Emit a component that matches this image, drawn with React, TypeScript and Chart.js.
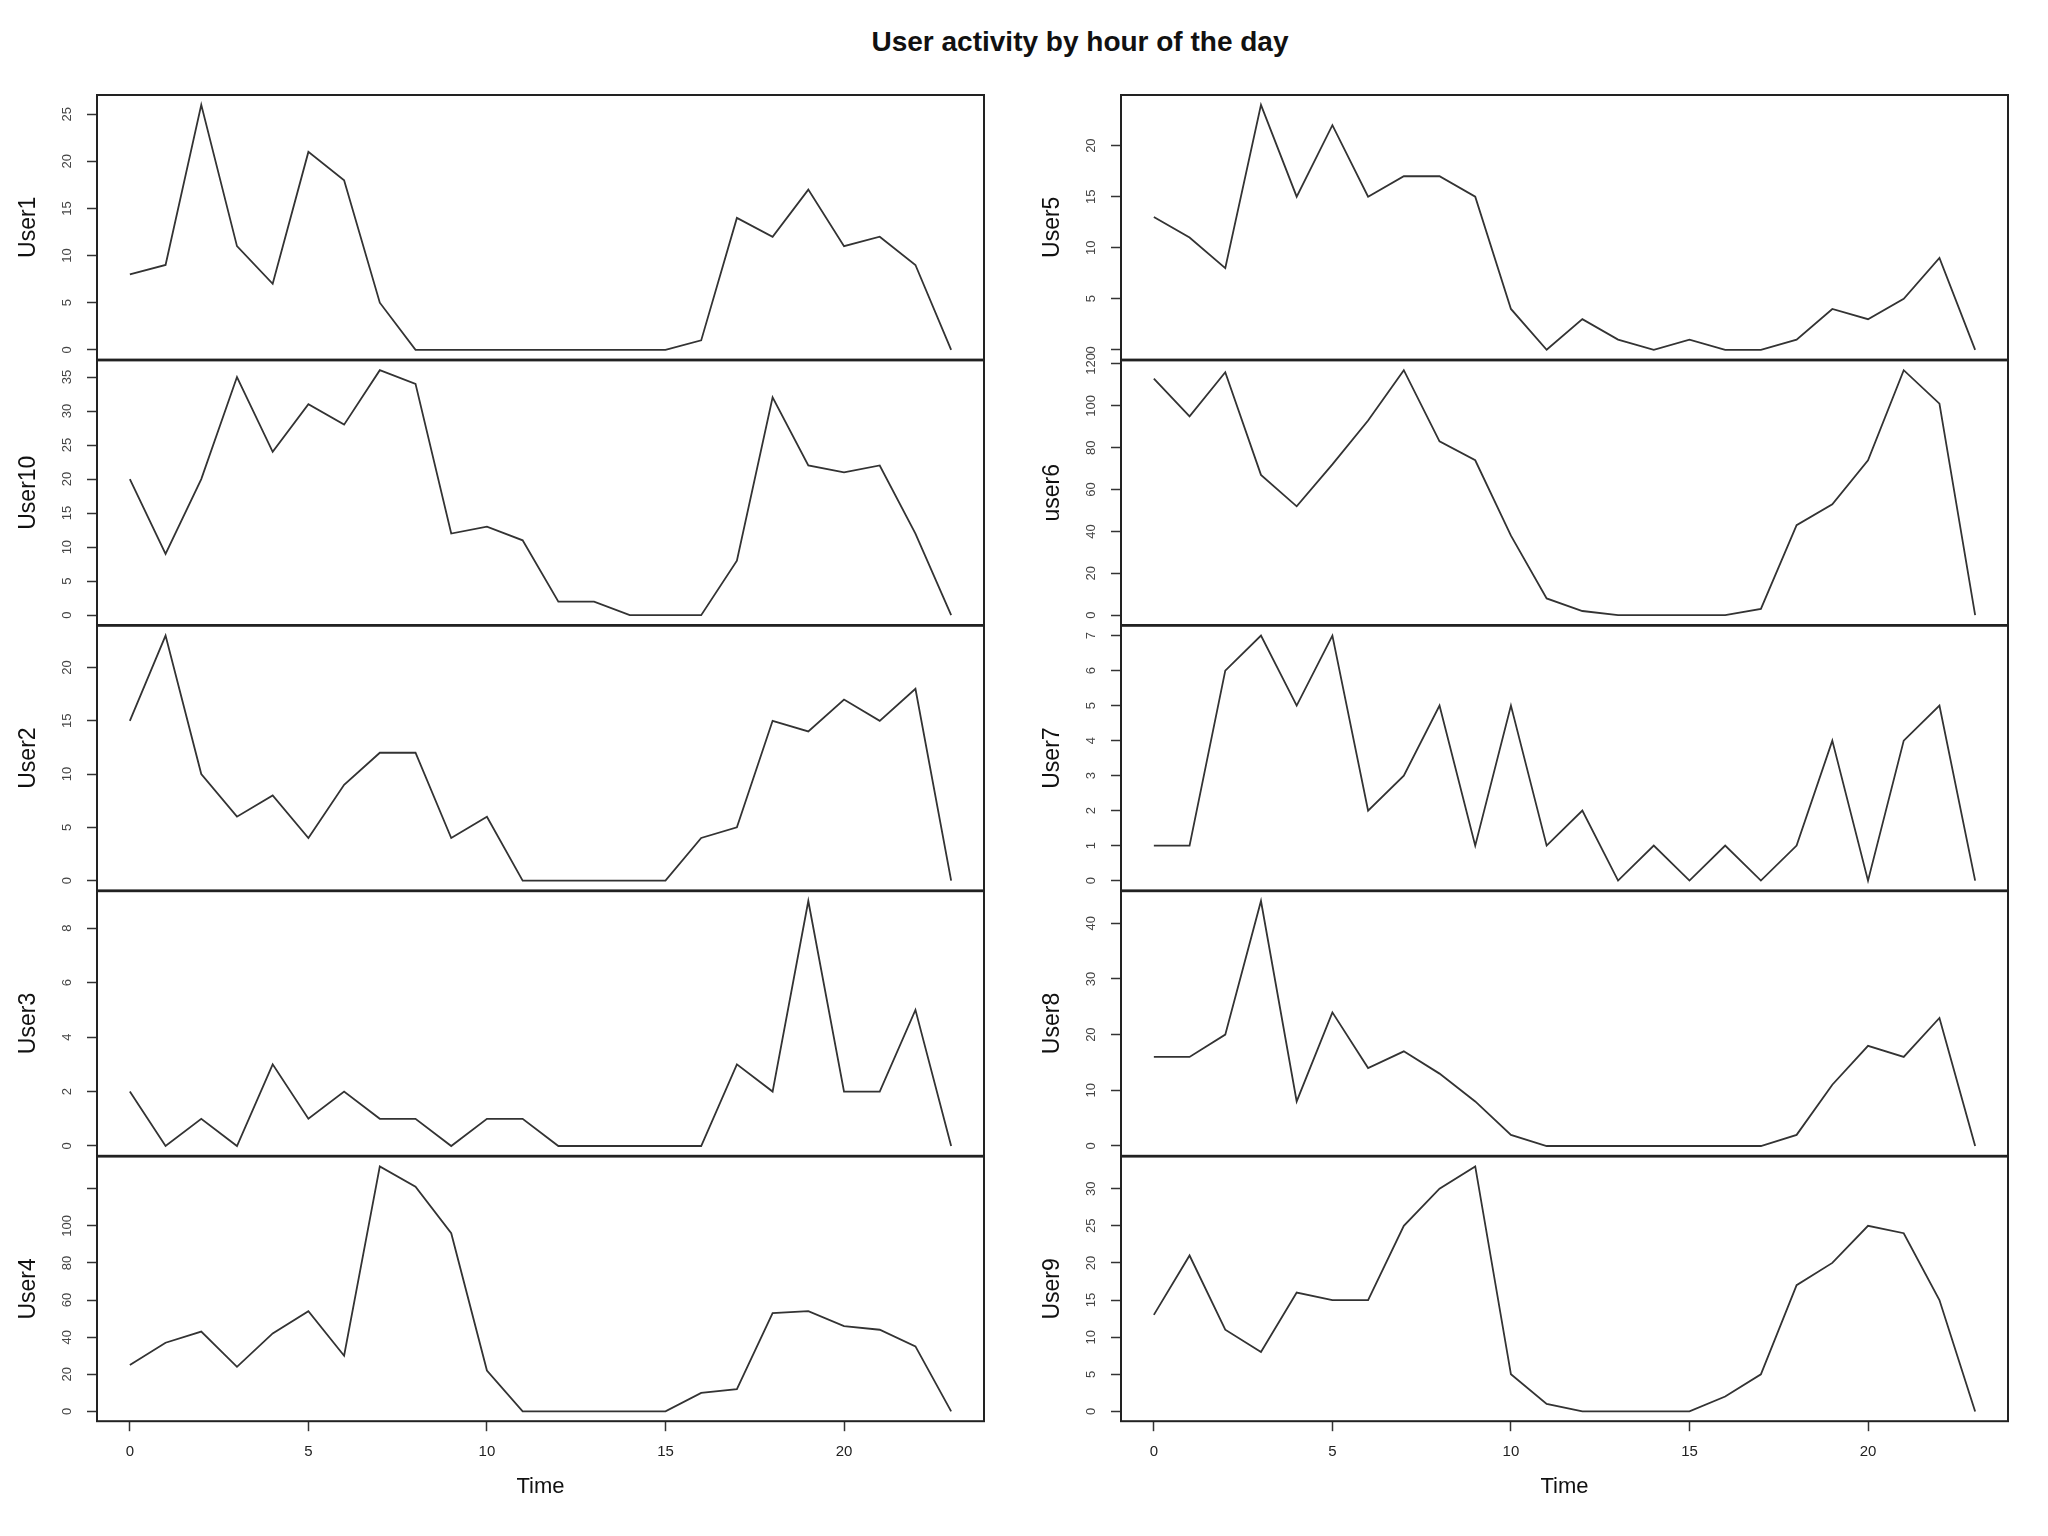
import React, { useEffect, useRef } from 'react';
import { Chart, registerables } from 'chart.js';

Chart.register(...registerables);

// ---------- data ----------
const hours = [0, 1, 2, 3, 4, 5, 6, 7, 8, 9, 10, 11, 12, 13, 14, 15, 16, 17, 18, 19, 20, 21, 22, 23];

const user1 = [8, 9, 26, 11, 7, 21, 18, 5, 0, 0, 0, 0, 0, 0, 0, 0, 1, 14, 12, 17, 11, 12, 9, 0];
const user10 = [20, 9, 20, 35, 24, 31, 28, 36, 34, 12, 13, 11, 2, 2, 0, 0, 0, 8, 32, 22, 21, 22, 12, 0];
const user2 = [15, 23, 10, 6, 8, 4, 9, 12, 12, 4, 6, 0, 0, 0, 0, 0, 4, 5, 15, 14, 17, 15, 18, 0];
const user3 = [2, 0, 1, 0, 3, 1, 2, 1, 1, 0, 1, 1, 0, 0, 0, 0, 0, 3, 2, 9, 2, 2, 5, 0];
const user4 = [25, 37, 43, 24, 42, 54, 30, 132, 121, 96, 22, 0, 0, 0, 0, 0, 10, 12, 53, 54, 46, 44, 35, 0];
const user5 = [13, 11, 8, 24, 15, 22, 15, 17, 17, 15, 4, 0, 3, 1, 0, 1, 0, 0, 1, 4, 3, 5, 9, 0];
const user6 = [113, 95, 116, 67, 52, 72, 93, 117, 83, 74, 38, 8, 2, 0, 0, 0, 0, 3, 43, 53, 74, 117, 101, 0];
const user7 = [1, 1, 6, 7, 5, 7, 2, 3, 5, 1, 5, 1, 2, 0, 1, 0, 1, 0, 1, 4, 0, 4, 5, 0];
const user8 = [16, 16, 20, 44, 8, 24, 14, 17, 13, 8, 2, 0, 0, 0, 0, 0, 0, 0, 2, 11, 18, 16, 23, 0];
const user9 = [13, 21, 11, 8, 16, 15, 15, 25, 30, 33, 5, 1, 0, 0, 0, 0, 2, 5, 17, 20, 25, 24, 15, 0];

// tick values
const xTicks = [0, 5, 10, 15, 20];
const ticksUser1 = [0, 5, 10, 15, 20, 25];
const ticksUser10 = [0, 5, 10, 15, 20, 25, 30, 35];
const ticksUser2 = [0, 5, 10, 15, 20];
const ticksUser3 = [0, 2, 4, 6, 8];
const ticksUser4 = [0, 20, 40, 60, 80, 100, 120];
const labelsUser4 = ['0', '20', '40', '60', '80', '100', ''];
const ticksUser5 = [0, 5, 10, 15, 20];
const ticksUser6 = [0, 20, 40, 60, 80, 100, 120];
const ticksUser7 = [0, 1, 2, 3, 4, 5, 6, 7];
const ticksUser8 = [0, 10, 20, 30, 40];
const ticksUser9 = [0, 5, 10, 15, 20, 25, 30];

const titleText = 'User activity by hour of the day';
const xTitle = 'Time';

type PanelSpec = {
  name: string;
  values: number[];
  ticks: number[];
  tickLabels?: string[];
  col: number;
  row: number;
};

const panels: PanelSpec[] = [
  { name: 'User1', values: user1, ticks: ticksUser1, col: 0, row: 0 },
  { name: 'User10', values: user10, ticks: ticksUser10, col: 0, row: 1 },
  { name: 'User2', values: user2, ticks: ticksUser2, col: 0, row: 2 },
  { name: 'User3', values: user3, ticks: ticksUser3, col: 0, row: 3 },
  { name: 'User4', values: user4, ticks: ticksUser4, tickLabels: labelsUser4, col: 0, row: 4 },
  { name: 'User5', values: user5, ticks: ticksUser5, col: 1, row: 0 },
  { name: 'user6', values: user6, ticks: ticksUser6, col: 1, row: 1 },
  { name: 'User7', values: user7, ticks: ticksUser7, col: 1, row: 2 },
  { name: 'User8', values: user8, ticks: ticksUser8, col: 1, row: 3 },
  { name: 'User9', values: user9, ticks: ticksUser9, col: 1, row: 4 },
];

// ---------- layout ----------
const FONT = "'Liberation Sans', Arial, Helvetica, sans-serif";
const PAGE_H = 1536;
const CANVAS_LEFT = [0, 1024];
const Y_AXIS_W = 97;
const BOX_W = 887;
const RIGHT_PAD = 30;
const CANVAS_W = Y_AXIS_W + BOX_W + RIGHT_PAD;
const PANEL_TOP0 = 95;
const PANEL_STEP = 265.4;
const PANEL_H = 264.6;
const BLEED = 40;
const LAST_ROW = 4;
const TICK_FONT_SIZE = 13;
const LABEL_CENTER_DIST = 30;
const TICK_LEN = 10;

const framePlugin = {
  id: 'frame',
  afterDatasetsDraw(chart: any) {
    const { ctx, chartArea } = chart;
    const { left, top, right, bottom } = chartArea;
    ctx.save();
    ctx.strokeStyle = '#222';
    ctx.lineWidth = 2;
    ctx.strokeRect(left, top, right - left, bottom - top);
    ctx.restore();
  },
};

function measureWidest(labels: string[], font: string): number {
  const c = document.createElement('canvas');
  const ctx = c.getContext('2d');
  if (!ctx) return 0;
  ctx.font = font;
  let w = 0;
  for (const l of labels) w = Math.max(w, ctx.measureText(l).width);
  return w;
}

function Panel({ spec }: { spec: PanelSpec }) {
  const ref = useRef<HTMLCanvasElement | null>(null);
  const isBottom = spec.row === LAST_ROW;
  const panelTop = PANEL_TOP0 + PANEL_STEP * spec.row;
  const panelBottom = panelTop + PANEL_H;
  const canvasTop = Math.floor(panelTop) - BLEED;
  const canvasH = isBottom ? PAGE_H - canvasTop : Math.ceil(panelBottom) + BLEED - canvasTop;
  const canvasLeft = CANVAS_LEFT[spec.col];
  const padTop = panelTop - canvasTop;
  const padBottom = isBottom ? 0 : canvasTop + canvasH - panelBottom;
  const xAxisH = PAGE_H - panelBottom;

  useEffect(() => {
    if (!ref.current) return;
    const labels = spec.tickLabels ?? spec.ticks.map((v) => String(v));
    const widest = measureWidest(labels, `${TICK_FONT_SIZE}px ${FONT}`);
    const tickPad = LABEL_CENTER_DIST - TICK_LEN - widest / 2;
    const maxV = Math.max(...spec.values);
    const minV = Math.min(...spec.values);
    const yr = maxV - minV;
    const xr = hours[hours.length - 1] - hours[0];

    const chart = new Chart(ref.current, {
      type: 'line',
      data: {
        datasets: [
          {
            data: hours.map((h, i) => ({ x: h, y: spec.values[i] })),
            borderColor: '#333',
            borderWidth: 1.8,
            pointRadius: 0,
            fill: false,
            tension: 0,
          },
        ],
      },
      options: {
        animation: false,
        responsive: false,
        events: [],
        layout: { padding: { top: padTop, bottom: padBottom, left: 0, right: RIGHT_PAD } },
        plugins: {
          legend: { display: false },
          tooltip: { enabled: false },
          title: { display: false },
        },
        scales: {
          x: {
            type: 'linear',
            min: hours[0] - 0.04 * xr,
            max: hours[hours.length - 1] + 0.04 * xr,
            display: isBottom,
            afterBuildTicks: (s: any) => {
              s.ticks = xTicks.map((v) => ({ value: v }));
            },
            afterFit: (s: any) => {
              s.height = isBottom ? xAxisH : 0;
            },
            grid: {
              display: true,
              drawOnChartArea: false,
              drawTicks: true,
              tickLength: TICK_LEN,
              tickColor: '#333',
              tickWidth: 1.5,
            },
            border: { display: false },
            ticks: {
              autoSkip: false,
              maxRotation: 0,
              padding: 12,
              color: '#222',
              font: { size: 15, family: FONT },
            },
            title: {
              display: true,
              text: xTitle,
              color: '#111',
              font: { size: 22, family: FONT, lineHeight: 1 },
              padding: { top: 0, bottom: 38 },
            },
          },
          y: {
            type: 'linear',
            min: minV - 0.04 * yr,
            max: maxV + 0.04 * yr,
            afterBuildTicks: (s: any) => {
              s.ticks = spec.ticks.map((v) => ({ value: v }));
            },
            afterFit: (s: any) => {
              s.width = Y_AXIS_W;
            },
            grid: {
              display: true,
              drawOnChartArea: false,
              drawTicks: true,
              tickLength: TICK_LEN,
              tickColor: '#333',
              tickWidth: 1.5,
            },
            border: { display: false },
            ticks: {
              autoSkip: false,
              minRotation: 90,
              maxRotation: 90,
              crossAlign: 'center',
              padding: tickPad,
              color: '#444',
              font: { size: TICK_FONT_SIZE, family: FONT },
              callback: (_v: any, i: number) => labels[i],
            },
            title: {
              display: true,
              text: spec.name,
              color: '#111',
              font: { size: 23, family: FONT, lineHeight: 1 },
              padding: { top: 17.5, bottom: 0 },
            },
          },
        },
      } as any,
      plugins: [framePlugin],
    });
    return () => chart.destroy();
  }, []);

  return (
    <canvas
      ref={ref}
      width={CANVAS_W}
      height={canvasH}
      style={{
        position: 'absolute',
        left: canvasLeft,
        top: canvasTop,
        width: CANVAS_W,
        height: canvasH,
      }}
    />
  );
}

export default function App() {
  return (
    <div
      style={{
        position: 'absolute',
        left: 0,
        top: 0,
        width: 2048,
        height: PAGE_H,
        background: '#fff',
        overflow: 'hidden',
      }}
    >
      <div
        style={{
          position: 'absolute',
          left: 580,
          top: 28,
          width: 1000,
          textAlign: 'center',
          fontFamily: FONT,
          fontWeight: 'bold',
          fontSize: 28,
          lineHeight: '28px',
          color: '#111',
          whiteSpace: 'nowrap',
        }}
      >
        {titleText}
      </div>
      {panels.map((p) => (
        <Panel key={p.name} spec={p} />
      ))}
    </div>
  );
}
